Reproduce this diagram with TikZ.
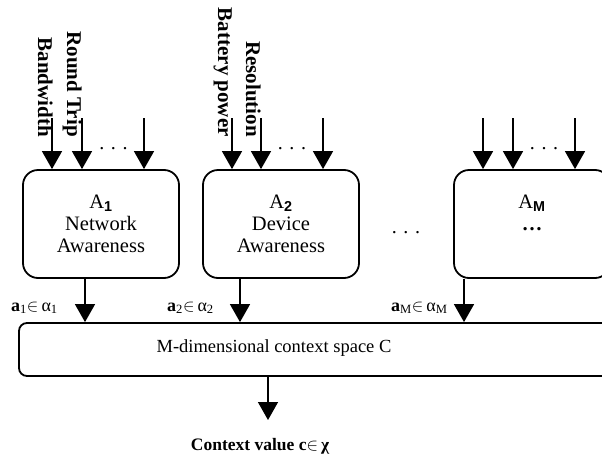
\documentclass[tikz,border=0pt]{standalone}
\usepackage{fontspec}
\setmainfont{Liberation Serif}
\setsansfont{Liberation Sans}
\usetikzlibrary{arrows.meta}

% bold sans subscript used in the awareness box titles
\newcommand\awsub[1]{\textsubscript{\sffamily\bfseries #1}}

\tikzset{
  awbox/.style={draw, line width=1.8pt, rounded corners=15pt,
    minimum width=156pt, minimum height=108pt, inner sep=0pt,
    align=center, font=\fontsize{20.5}{22}\selectfont},
  ctxbox/.style={draw, line width=1.8pt, rounded corners=8pt,
    minimum width=596pt, minimum height=53pt, inner sep=0pt},
  arr/.style={line width=1.4pt, -{Triangle[width=20pt,length=18pt]}},
  inlabel/.style={rotate=-90, anchor=base east, inner sep=0pt,
    font=\bfseries\fontsize{21}{21}\selectfont},
  dotrow/.style={anchor=base, inner sep=0pt, font=\fontsize{20}{20}\selectfont},
  alabel/.style={anchor=base west, inner sep=0pt, font=\fontsize{18}{18}\selectfont},
}

\begin{document}
\begin{tikzpicture}[x=1pt,y=1pt]
\useasboundingbox (0,0) rectangle (602,-458);

% awareness modules
\node[awbox] (a1) at (101,-224) {A\awsub{1}\\Network\\Awareness};
\node[awbox] (a2) at (281,-224) {A\awsub{2}\\Device\\Awareness};
\node[awbox] (am) at (532,-224) {A\awsub{M}\\\textbf{…}\\\mbox{}};

% context space
\node[ctxbox] (ctx) at (317,-349.5) {};
\node[inner sep=0pt, font=\fontsize{18.5}{18.5}\selectfont] (ctxtext) at (274,-348)
  {M-dimensional context space C};

% input parameter names
\node[inlabel] (lbw)  at (38,-137)  {Bandwidth};
\node[inlabel] (lrt)  at (67,-137)  {Round Trip};
\node[inlabel] (lbp)  at (218,-137) {Battery power};
\node[inlabel] (lres) at (246,-137) {Resolution};

% input arrow starts
\coordinate (i11) at (52,-118);
\coordinate (i12) at (82,-118);
\coordinate (i13) at (144,-118);
\coordinate (i21) at (232,-118);
\coordinate (i22) at (261,-118);
\coordinate (i23) at (323,-118);
\coordinate (im1) at (483,-118);
\coordinate (im2) at (513,-118);
\coordinate (im3) at (575,-118);

\foreach \p/\b in {i11/a1,i12/a1,i13/a1,i21/a2,i22/a2,i23/a2,im1/am,im2/am,im3/am}
  \draw[arr] (\p) -- (\p |- \b.north);

% elided inputs and modules
\node[dotrow] (d1) at (113.5,-149) {. . .};
\node[dotrow] (d2) at (292,-149)   {. . .};
\node[dotrow] (d3) at (544,-149)   {. . .};
\node[dotrow] (dm) at (406,-233)   {. . .};

% module outputs into the context space
\draw[arr] ([xshift=-16pt]a1.south) -- ([xshift=-16pt]a1.south |- ctx.north);
\draw[arr] ([xshift=-41pt]a2.south) -- ([xshift=-41pt]a2.south |- ctx.north);
\draw[arr] ([xshift=-68pt]am.south) -- ([xshift=-68pt]am.south |- ctx.north);

\node[alabel] (al1) at (11,-311)  {\textbf{a}\textsubscript{1}$\in$\,α\textsubscript{1}};
\node[alabel] (al2) at (167,-311) {\textbf{a}\textsubscript{2}$\in$\,α\textsubscript{2}};
\node[alabel] (alm) at (391,-311) {\textbf{a}\textsubscript{M}$\in$\,α\textsubscript{M}};

% resulting context value
\coordinate (out) at (268,-420);
\draw[arr] (ctx.south -| out) -- (out);
\node[anchor=base, inner sep=0pt, font=\bfseries\fontsize{17.5}{17.5}\selectfont] (cval)
  at (260,-450) {Context value c$\in$\,χ};
\end{tikzpicture}
\end{document}
